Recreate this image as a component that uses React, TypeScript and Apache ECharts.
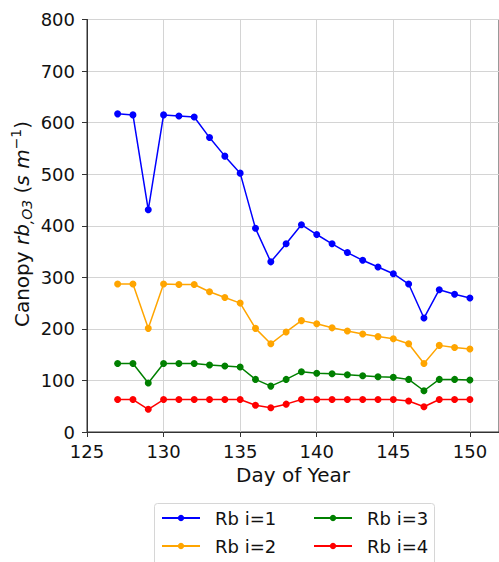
import React, { useEffect, useRef } from "react";
import * as echarts from "echarts";

const days = [127, 128, 129, 130, 131, 132, 133, 134, 135, 136, 137, 138, 139, 140, 141, 142, 143, 144, 145, 146, 147, 148, 149, 150];
const rb1 = [617, 615, 431, 615, 613, 611, 571, 535, 502, 395, 330, 365, 402, 383, 365, 348, 333, 320, 307, 287, 221, 276, 267, 260];
const rb2 = [287, 287, 201, 287, 286, 286, 272, 261, 250, 201, 171, 194, 216, 210, 202, 196, 190, 185, 181, 171, 133, 168, 164, 161];
const rb3 = [133, 133, 95, 133, 133, 133, 130, 128, 126, 102, 89, 102, 117, 114, 113, 111, 109, 107, 106, 102, 80, 102, 102, 101];
const rb4 = [63, 63, 44, 63, 63, 63, 63, 63, 63, 52, 47, 54, 63, 63, 63, 63, 63, 63, 63, 60, 49, 63, 63, 63];
const seriesNames = ["Rb i=1", "Rb i=2", "Rb i=3", "Rb i=4"];
const colors = ["#0000ff", "#ffa500", "#008000", "#ff0000"];
const xTitle = "Day of Year";

const FONT = "DejaVu Sans";

export default function App() {
  const ref = useRef<HTMLDivElement>(null);
  useEffect(() => {
    if (!ref.current) return;
    const chart = echarts.init(ref.current, undefined, { renderer: "svg" });
    const all = [rb1, rb2, rb3, rb4];
    const legendCommon = {
      orient: "vertical",
      top: 509,
      height: 80,
      width: 150,
      padding: 0,
      itemWidth: 38,
      itemHeight: 8,
      itemGap: 10,
      textStyle: { fontSize: 18, color: "#111", fontFamily: FONT, padding: [0, 0, 0, 10] },
    };
    chart.setOption({
      animation: false,
      backgroundColor: "#ffffff",
      textStyle: { fontFamily: FONT },
      grid: { left: 87, right: -3, top: 19.5, bottom: 130, show: true, borderColor: "#333", borderWidth: 1 },
      xAxis: {
        type: "value",
        min: 125,
        max: 151.9,
        interval: 5,
        axisLine: { show: true, onZero: false, lineStyle: { color: "#333", width: 1 } },
        axisTick: { show: true, inside: false, length: 5, lineStyle: { color: "#333" } },
        axisLabel: { fontSize: 18, color: "#111", fontFamily: FONT, margin: 10, showMaxLabel: false },
        splitLine: { show: true, lineStyle: { color: "#d4d4d4", width: 1 } },
        name: xTitle,
        nameLocation: "middle",
        nameGap: 32,
        nameTextStyle: { fontSize: 20, color: "#111", fontFamily: FONT },
      },
      yAxis: {
        type: "value",
        min: 0,
        max: 800,
        interval: 100,
        axisLine: { show: true, lineStyle: { color: "#333", width: 1 } },
        axisTick: { show: true, inside: false, length: 5, lineStyle: { color: "#333" } },
        axisLabel: { fontSize: 18, color: "#111", fontFamily: FONT, margin: 12 },
        splitLine: { show: true, lineStyle: { color: "#d4d4d4", width: 1 } },
      },
      legend: [
        { ...legendCommon, data: [seriesNames[0], seriesNames[1]], left: 161 },
        { ...legendCommon, data: [seriesNames[2], seriesNames[3]], left: 313 },
      ],
      graphic: [
        {
          type: "rect",
          shape: { x: 154.5, y: 503.5, width: 280, height: 70, r: 3 },
          style: { fill: "#fff", stroke: "#d6d6d6", lineWidth: 1 },
          z: -1,
          silent: true,
        },
        {
          type: "text",
          x: 22,
          y: 224,
          rotation: Math.PI / 2,
          style: {
            text: "{n|Canopy }{i|rb}{sub|,O3}{n| (}{i|s m}{sup|−1}{n|)}",
            align: "center",
            verticalAlign: "middle",
            fill: "#111",
            rich: {
              n: { fontSize: 20, fontFamily: FONT, fill: "#111" },
              i: { fontSize: 20, fontFamily: FONT, fontStyle: "italic", fill: "#111" },
              sub: { fontSize: 14, fontFamily: FONT, fontStyle: "italic", fill: "#111", padding: [9, 0, 0, 0] },
              sup: { fontSize: 14, fontFamily: FONT, fill: "#111", padding: [0, 0, 12, 0] },
            },
          },
        },
      ],
      series: all.map((vals, k) => ({
        name: seriesNames[k],
        type: "line",
        data: days.map((d, i) => [d, vals[i]]),
        color: colors[k],
        symbol: "circle",
        symbolSize: 7,
        showSymbol: true,
        lineStyle: { width: 1.5, color: colors[k] },
        itemStyle: { color: colors[k] },
        z: 10 - k,
      })),
    });
    return () => chart.dispose();
  }, []);
  return <div ref={ref} style={{ width: 499, height: 562, position: "absolute", left: 0, top: 0 }} />;
}
